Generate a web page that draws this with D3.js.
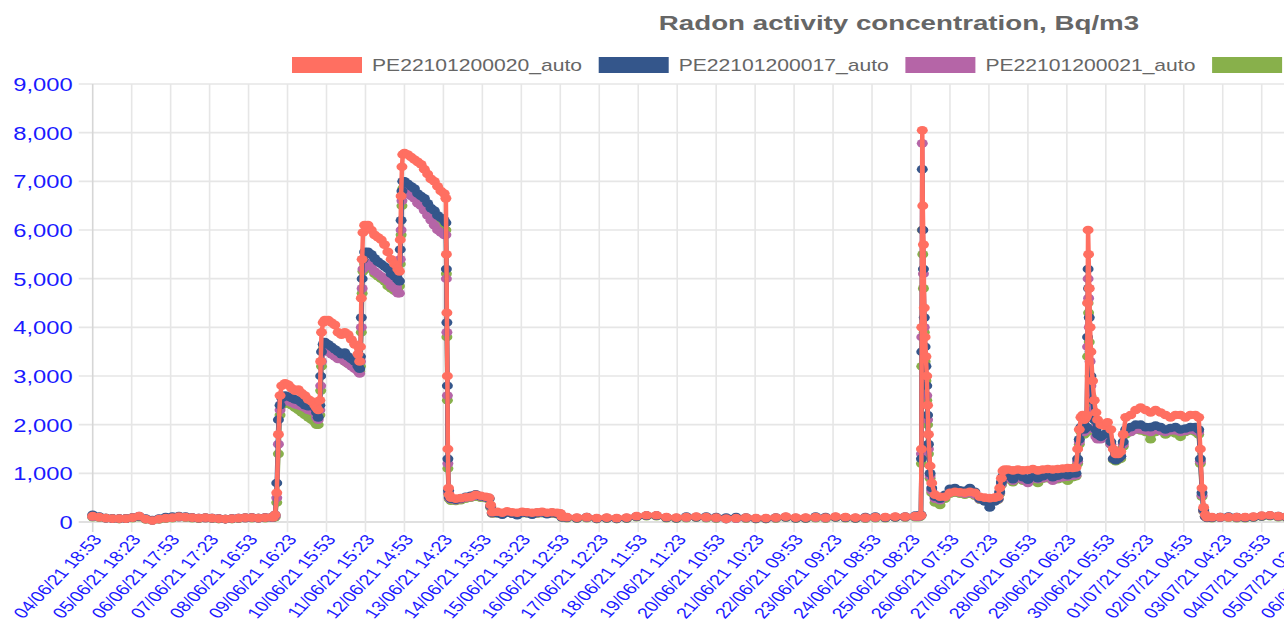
<!DOCTYPE html>
<html><head><meta charset="utf-8">
<script src="https://cdn.jsdelivr.net/npm/d3@7"></script>
<style>html,body{margin:0;padding:0;background:#fff;overflow:hidden}</style>
</head><body><svg id="chart" width="1284" height="621"></svg>
<script>
const title = "Radon activity concentration, Bq/m3";
const seriesNames = ["PE22101200020_auto", "PE22101200017_auto", "PE22101200021_auto", ""];
const seriesColors = ["#FF6F61", "#34568B", "#B565A7", "#88B04B"];
const tickLabels = ["04/06/21 18:53","05/06/21 18:23","06/06/21 17:53","07/06/21 17:23","08/06/21 16:53",
  "09/06/21 16:23","10/06/21 15:53","11/06/21 15:23","12/06/21 14:53","13/06/21 14:23","14/06/21 13:53",
  "15/06/21 13:23","16/06/21 12:53","17/06/21 12:23","18/06/21 11:53","19/06/21 11:23","20/06/21 10:53",
  "21/06/21 10:23","22/06/21 09:53","23/06/21 09:23","24/06/21 08:53","25/06/21 08:23","26/06/21 07:53",
  "27/06/21 07:23","28/06/21 06:53","29/06/21 06:23","30/06/21 05:53","01/07/21 05:23","02/07/21 04:53",
  "03/07/21 04:23","04/07/21 03:53","05/07/21 03:23","06/07/21 02:53"];
const yTicks = [0,1000,2000,3000,4000,5000,6000,7000,8000,9000];

// hours elapsed since the first label (04/06/21 18:53)
const hours = [
  0,4,8,12,16,20,24,28,32,36,40,44,48,52,56,60,64,68,72,76,80,84,88,92,96,100,104,108,
  109,110,111,112,113,114,116,118,120,122,124,126,128,130,132,134,135,136,
  137,137.5,138,139,140,142,144,146,148,150,152,154,156,158,160,161,
  161.5,162,162.5,163,164,166,168,170,172,174,176,178,180,182,184,185,
  185.5,186,186.5,187,188,190,192,194,196,198,200,202,204,206,208,210,212,213,213.3,213.6,213.9,214.2,214.6,215,
  216,219,222,225,228,231,234,237,239,240,241,244,247,250,253,256,259,262,265,268,271,274,277,280,282,283,
  286,292,298,304,310,316,322,328,334,340,346,352,358,364,370,376,382,388,394,400,406,412,418,424,430,436,442,448,454,460,466,472,478,484,490,496,
  498,499,499.5,499.8,500,500.3,500.6,501,501.5,502,502.5,503,503.5,504,505,506,508,511,514,517,520,523,526,529,532,535,538,541,544,546,547,548,549,550,
  552,555,558,561,564,567,570,573,576,579,582,585,588,591,593,594,595,596,597,598,599,
  599.5,600,600.3,600.6,601,601.5,602,603,604,605,606,608,610,612,614,615.5,617,618.5,620,621.5,623,626,629,632,635,638,641,644,647,650,653,656,659,662,665,667,668,669,670,671,672,
  675,680,685,690,695,700,705,710,715,720,725,730
];
const valuesRed = [
  120,100,80,70,70,70,90,120,60,30,60,80,90,110,100,90,80,90,80,70,60,70,80,90,90,80,90,100,
  100,150,600,1800,2600,2800,2850,2820,2750,2700,2720,2650,2600,2520,2480,2400,2350,2300,
  2500,3300,3900,4100,4150,4150,4100,4050,3900,3850,3900,3850,3750,3650,3450,3300,
  3600,4600,5400,5950,6100,6100,6000,5900,5850,5800,5700,5550,5400,5300,5200,5150,
  5800,6700,7300,7550,7580,7550,7500,7450,7400,7350,7250,7150,7050,7000,6900,6800,6750,6650,5500,4300,3000,1500,700,560,
  500,480,490,510,520,560,540,520,500,350,200,210,190,220,200,190,210,200,190,200,210,190,200,190,180,110,
  100,90,100,80,90,80,90,120,140,140,100,90,100,110,100,90,70,80,90,80,80,90,110,90,90,100,90,110,100,90,90,100,100,110,110,120,
  120,130,140,1500,4000,8050,6500,5700,4400,3800,3400,3000,2400,1800,1150,800,560,520,520,600,620,610,600,620,600,520,500,490,500,520,700,900,1050,1080,
  1080,1060,1080,1060,1070,1090,1060,1080,1090,1080,1090,1100,1110,1110,1120,1500,1900,2150,2200,2100,2150,
  2200,4500,6000,5500,4800,4000,3500,2900,2500,2250,2100,2000,1980,2050,1900,1500,1400,1400,1450,1800,2150,2200,2300,2350,2300,2250,2300,2250,2200,2150,2200,2200,2150,2200,2200,2150,1500,700,300,150,100,
  100,100,100,100,100,110,130,140,120,110,110,100
];
const valuesNavy = [
  150,110,80,70,70,70,90,110,70,40,70,100,110,120,110,90,80,90,80,70,60,70,80,90,90,80,90,100,
  100,150,800,2100,2400,2550,2600,2580,2550,2520,2500,2450,2400,2380,2420,2350,2250,2150,
  2400,3000,3500,3650,3700,3650,3600,3550,3500,3450,3480,3400,3350,3300,3200,3150,
  3400,4200,5000,5400,5550,5550,5500,5420,5350,5300,5250,5200,5100,5050,4980,4950,
  5600,6200,6800,7000,7000,6950,6900,6850,6750,6700,6650,6550,6450,6400,6300,6250,6200,6150,5200,4100,2800,1300,650,520,
  480,460,480,520,540,570,530,510,490,330,190,180,150,200,170,140,200,180,150,190,200,160,190,170,170,100,
  90,80,100,70,80,70,80,110,130,130,90,80,110,100,110,100,90,100,90,70,70,90,100,80,80,110,100,100,90,80,100,110,90,100,110,130,
  130,130,150,1300,3500,7250,6000,5200,4200,3600,3200,2800,2200,1600,1000,700,520,480,560,680,700,650,640,700,620,480,420,300,420,480,620,820,950,980,
  950,880,980,920,870,960,900,940,980,920,950,980,960,1000,1000,1300,1700,1950,1950,1900,1950,
  1950,3800,5200,4800,4200,3500,3000,2500,2100,1900,1800,1750,1800,1850,1650,1300,1270,1300,1350,1650,1900,1950,2000,2000,1950,1950,1980,1950,1900,1930,1950,1900,1920,1950,1950,1900,1300,600,250,120,90,
  90,100,110,100,90,100,120,130,120,100,100,100
];
const valuesPurple = [
  110,100,80,70,70,70,90,120,60,30,60,80,90,100,100,90,80,80,80,70,60,70,80,80,90,80,90,90,
  100,120,500,1600,2300,2450,2500,2480,2450,2420,2400,2380,2350,2300,2280,2250,2150,2100,
  2300,2800,3300,3500,3550,3500,3450,3400,3350,3350,3300,3250,3200,3150,3100,3050,
  3300,4000,4800,5200,5350,5300,5250,5150,5100,5050,5000,4950,4850,4800,4700,4700,
  5400,6000,6600,6800,6850,6800,6700,6650,6550,6500,6400,6300,6200,6100,6000,5950,5900,5900,5000,3900,2600,1200,600,500,
  470,450,470,500,510,540,520,500,480,320,180,190,170,200,180,170,190,190,170,180,190,180,180,170,160,100,
  90,80,90,70,80,70,80,110,130,130,90,80,90,100,90,80,60,70,80,70,70,80,100,80,80,90,80,100,90,80,80,90,90,100,100,110,
  110,120,140,1400,3800,7780,6000,5100,4000,3400,3000,2600,2100,1500,950,650,480,450,520,600,620,600,580,600,560,470,450,430,450,470,600,780,900,920,
  900,850,920,870,800,900,880,900,930,850,900,920,930,950,960,1250,1650,1900,1900,1850,1900,
  1900,3600,5000,4600,4000,3300,2800,2300,1900,1750,1700,1700,1750,1800,1600,1300,1280,1300,1350,1600,1850,1850,1900,1900,1880,1850,1900,1870,1850,1880,1880,1850,1870,1900,1880,1850,1250,550,230,110,90,
  90,90,100,90,90,100,120,130,110,100,100,90
];
const valuesGreen = [
  100,90,80,70,60,70,80,100,50,30,50,70,80,100,90,80,70,80,70,60,60,60,70,80,80,80,80,90,
  90,100,400,1400,2200,2400,2450,2430,2400,2350,2300,2250,2200,2150,2100,2050,2000,2000,
  2200,2700,3200,3550,3600,3550,3500,3450,3400,3350,3300,3250,3250,3200,3150,3100,
  3200,3900,4700,5150,5300,5250,5200,5100,5050,5000,4950,4850,4800,4750,4800,4850,
  5300,5900,6500,6850,6900,6850,6800,6700,6650,6550,6450,6400,6300,6200,6100,6050,6000,6000,5100,3800,2500,1100,580,480,
  440,430,450,480,500,520,500,490,470,300,170,180,160,190,170,160,180,180,160,170,180,170,170,160,150,90,
  80,70,80,60,70,60,70,100,120,120,80,70,80,90,80,70,60,70,70,60,60,70,90,70,70,80,70,90,80,70,70,80,80,90,90,100,
  100,110,130,1200,3200,6000,5500,4800,3900,3300,2900,2500,2000,1400,900,600,400,350,480,580,600,580,560,580,540,460,440,420,440,460,580,760,880,900,
  880,820,900,850,840,880,800,890,900,870,880,900,850,920,940,1200,1600,1850,1850,1800,1850,
  1850,3400,4500,4300,3700,3000,2600,2200,1900,1800,1750,1720,1750,1780,1600,1280,1250,1280,1300,1550,1800,1850,1900,1880,1850,1700,1850,1880,1800,1850,1820,1750,1850,1880,1850,1800,1200,520,220,110,85,
  80,90,90,80,80,90,110,120,100,90,90,80
];
const seriesValues = [valuesRed, valuesNavy, valuesPurple, valuesGreen];

const W = 1284, H = 621, SX = 1.32;
const FONT = "'Liberation Sans', Arial, Helvetica, sans-serif";
const X0 = 92.7, Y0 = 522, YTOP = 84;
const parse = d3.utcParse("%d/%m/%y %H:%M");
const tickDates = tickLabels.map(parse);
const t0 = tickDates[0];
const x = d3.scaleUtc().domain([tickDates[0], tickDates[30]]).range([X0, 1261.7]);
const y = d3.scaleLinear().domain([0, 9000]).range([Y0, YTOP]);

const svg = d3.select("#chart").attr("font-family", FONT);

// gridlines
svg.append("g").selectAll("line").data(yTicks).join("line")
  .attr("x1", X0 - 14).attr("x2", W).attr("y1", d => y(d)).attr("y2", d => y(d))
  .attr("stroke", d => d === 0 ? "#d6d6d6" : "#e6e6e6").attr("stroke-width", 1.6);
svg.append("g").selectAll("line").data(tickDates).join("line")
  .attr("x1", d => x(d)).attr("x2", d => x(d)).attr("y1", YTOP).attr("y2", Y0 + 10)
  .attr("stroke", (d, i) => i === 0 ? "#d6d6d6" : "#e6e6e6").attr("stroke-width", 1.6);

// axes (labels only)
const gy = svg.append("g").attr("transform", `translate(${X0},0)`)
  .call(d3.axisLeft(y).tickValues(yTicks).tickFormat(d3.format(",")).tickSize(0));
gy.select(".domain").remove();
gy.attr("font-family", FONT).attr("font-size", 18);
gy.selectAll("text").attr("x", null).attr("dy", null)
  .attr("text-anchor", "end").attr("fill", "#1a1aff")
  .attr("transform", `translate(-20,6.4) scale(${SX},1)`);

const gx = svg.append("g").attr("transform", `translate(0,${Y0})`)
  .call(d3.axisBottom(x).tickValues(tickDates).tickFormat((d, i) => tickLabels[i]).tickSize(0));
gx.select(".domain").remove();
gx.attr("font-family", FONT).attr("font-size", 15);
gx.selectAll("text").attr("y", null).attr("dy", "0.35em")
  .attr("text-anchor", "end").attr("fill", "#1a1aff")
  .attr("transform", `translate(4,14.5) scale(${SX},1) rotate(-53)`);

// series
const line = d3.line().x(d => x(d.t)).y(d => y(d.v));
for (let s = seriesValues.length - 1; s >= 0; s--) {
  const vals = seriesValues[s];
  const n = Math.min(hours.length, vals.length);
  const data = [];
  for (let i = 0; i < n; i++) data.push({ t: new Date(+t0 + hours[i] * 3600000), v: vals[i] });
  const g = svg.append("g");
  g.append("path").datum(data).attr("d", line).attr("fill", "none")
    .attr("stroke", seriesColors[s]).attr("stroke-width", 4.5).attr("stroke-linejoin", "round");
  g.selectAll("ellipse").data(data).join("ellipse")
    .attr("cx", d => x(d.t)).attr("cy", d => y(d.v)).attr("rx", 5.5).attr("ry", 4.3)
    .attr("fill", seriesColors[s]);
}

// title
svg.append("text").attr("transform", `translate(899,30) scale(${SX},1)`)
  .attr("text-anchor", "middle").attr("font-weight", "bold").attr("font-size", 21)
  .attr("fill", "#666").text(title);

// legend
seriesNames.forEach((name, i) => {
  const lx = 292 + i * 306.7;
  svg.append("rect").attr("x", lx).attr("y", 57).attr("width", 70).attr("height", 16)
    .attr("fill", seriesColors[i]);
  if (name) {
    svg.append("text").attr("transform", `translate(${lx + 80},71) scale(${SX},1)`)
      .attr("font-size", 16).attr("fill", "#666").text(name);
  }
});
</script></body></html>
